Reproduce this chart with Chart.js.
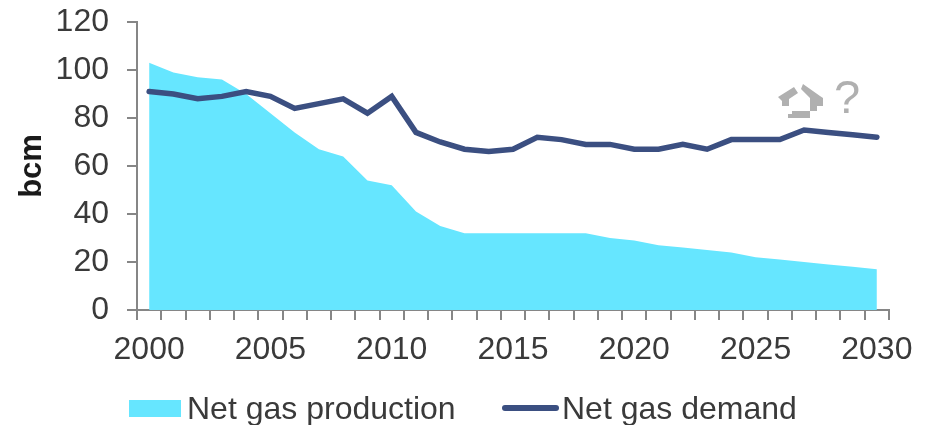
<!DOCTYPE html>
<html><head><meta charset="utf-8">
<script src="https://cdn.jsdelivr.net/npm/chart.js@4"></script>
<style>
html,body{margin:0;padding:0;background:#fff;width:926px;height:425px;overflow:hidden;font-family:"Liberation Sans",Arial,sans-serif}
#wrap{position:absolute;left:0;top:0;width:926px;height:425px}
.lg{position:absolute;font-size:32px;line-height:36px;color:#3a3a3a;white-space:nowrap}
.sw{position:absolute}
#q{position:absolute;left:834px;top:70px;font-size:47px;line-height:54px;color:#b0b0b0}
svg{position:absolute;left:740px;top:60px}
</style></head><body>
<div id="wrap"><canvas id="c" width="926" height="425"></canvas></div>
<svg width="150" height="90" viewBox="740 60 150 90"><g fill="#b0b0b0">
<polygon points="778,97 794,87 798,93 789,99 789,106 782,106 782,101"/>
<polygon points="803,84 820,96 823,98 823,106 817,106 817,111 810,111 810,98 801,89"/>
<polygon points="792,111 810,111 810,118 788,118 788,114 792,114"/>
</g></svg>
<div id="q">?</div>
<div class="sw" style="left:129px;top:400px;width:52px;height:17px;background:#66e6ff"></div>
<div class="lg" id="l1" style="left:187px;top:390px"></div>
<div class="sw" style="left:502px;top:405px;width:57px;height:6px;background:#3b4f81;border-radius:3px"></div>
<div class="lg" id="l2" style="left:562px;top:390px"></div>
<script>
const years = ["2000","2001","2002","2003","2004","2005","2006","2007","2008","2009","2010","2011","2012","2013","2014","2015","2016","2017","2018","2019","2020","2021","2022","2023","2024","2025","2026","2027","2028","2029","2030"];
const netGasProduction = [103,99,97,96,90,82,74,67,64,54,52,41,35,32,32,32,32,32,32,30,29,27,26,25,24,22,21,20,19,18,17];
const netGasDemand = [91,90,88,89,91,89,84,86,88,82,89,74,70,67,66,67,72,71,69,69,67,67,69,67,71,71,71,75,74,73,72];
const productionLabel = "Net gas production";
const demandLabel = "Net gas demand";
const yAxisTitle = "bcm";
document.getElementById('l1').textContent = productionLabel;
document.getElementById('l2').textContent = demandLabel;
const font = 'Liberation Sans';
new Chart(document.getElementById('c'), {
  type: 'line',
  data: { labels: years, datasets: [
    { label: demandLabel, data: netGasDemand, borderColor:'#3b4f81', borderWidth:5.5, pointRadius:0, fill:false, tension:0, borderCapStyle:'round', borderJoinStyle:'miter', order:1 },
    { label: productionLabel, data: netGasProduction, borderWidth:0, borderColor:'rgba(0,0,0,0)', backgroundColor:'#66e6ff', pointRadius:0, fill:'origin', tension:0, order:2 }
  ]},
  options: {
    responsive:false, animation:false,
    layout:{padding:{top:22,right:37,left:0,bottom:0}},
    plugins:{legend:{display:false},tooltip:{enabled:false}},
    scales:{
      x:{ type:'category', offset:true,
        grid:{drawOnChartArea:false,offset:true,color:'#868686',lineWidth:2,tickLength:10,tickColor:'#868686'},
        border:{color:'#868686',width:2},
        ticks:{autoSkip:false,maxRotation:0,minRotation:0,padding:11,color:'#3a3a3a',font:{family:font,size:32},
          callback(v,i){return i%5===0?years[i]:'';}},
        afterFit(s){s.height=115;s.paddingLeft=0;s.paddingRight=0;}
      },
      y:{ min:0,max:120,
        grid:{drawOnChartArea:false,color:'#868686',lineWidth:2,tickLength:10,tickColor:'#868686'},
        border:{color:'#868686',width:2},
        ticks:{stepSize:20,padding:18,color:'#3a3a3a',font:{family:font,size:32}},
        title:{display:true,text:yAxisTitle,color:'#1a1a1a',font:{family:font,size:31,weight:'bold'},padding:{top:14,bottom:0}},
        afterFit(s){s.width=137;s.paddingTop=0;s.paddingBottom=0;}
      }
    }
  }
});
</script>
</body></html>
